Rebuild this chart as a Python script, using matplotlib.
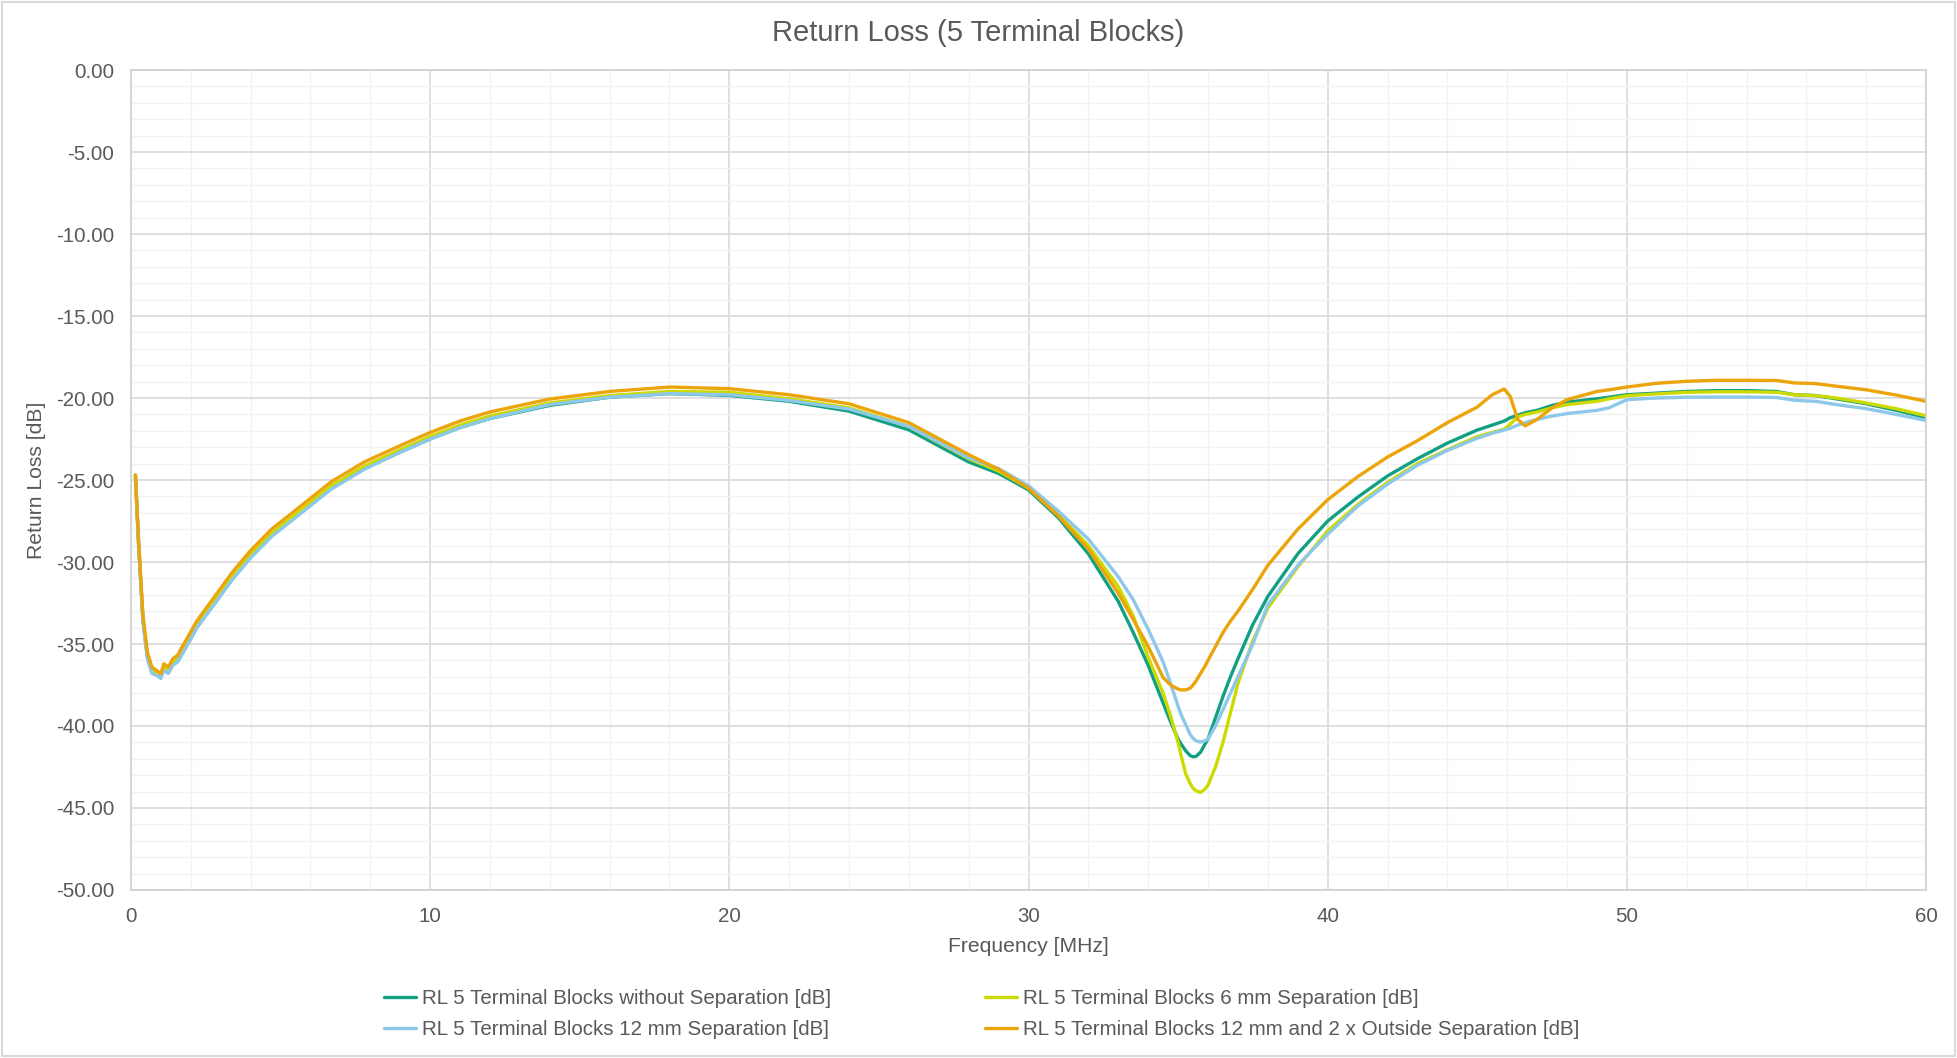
import matplotlib.pyplot as plt
from matplotlib.ticker import MultipleLocator, FormatStrFormatter
from matplotlib.patches import Rectangle

plt.rcParams['font.family'] = ['Liberation Sans', 'DejaVu Sans']

# frequency points [MHz]
freq = [0.15, 0.25, 0.4, 0.55, 0.7, 0.85, 1.0, 1.1, 1.25, 1.4, 1.55, 1.8, 2.2, 2.8,
        3.4, 4.0, 4.7, 5.6, 6.7, 7.8, 9.0, 10, 11, 12, 14, 16, 18, 20, 22, 24, 26,
        28, 29, 30, 31, 32, 33, 33.5, 34, 34.5, 34.75, 35, 35.1, 35.25, 35.4, 35.5,
        35.6, 35.75, 35.9, 36, 36.25, 36.5, 36.75, 37, 37.5, 38, 39, 40, 41, 42, 43,
        44, 45, 45.5, 45.9, 46.1, 46.35, 46.6, 47, 47.5, 48, 49, 49.4, 50, 51, 52, 53,
        54, 55, 55.6, 56.3, 57, 58, 59, 60]

# return loss [dB]
rl_none = [-24.7, -28.7, -33.5, -35.8, -36.7, -36.8, -37.0, -36.5, -36.7, -36.2, -36.1,
           -35.3, -34.0, -32.5, -31.0, -29.7, -28.4, -27.1, -25.5, -24.3, -23.3, -22.5,
           -21.8, -21.25, -20.45, -19.95, -19.73, -19.84, -20.2, -20.8, -21.94, -23.9,
           -24.6, -25.6, -27.3, -29.5, -32.4, -34.3, -36.3, -38.6, -39.75, -40.8, -41.1,
           -41.5, -41.8, -41.88, -41.85, -41.6, -41.1, -40.8, -39.5, -38.2, -37.0, -35.9,
           -33.8, -32.1, -29.5, -27.5, -26.05, -24.75, -23.7, -22.75, -21.95, -21.65,
           -21.4, -21.2, -21.05, -20.9, -20.75, -20.45, -20.25, -20.05, -19.95, -19.8,
           -19.7, -19.6, -19.55, -19.55, -19.6, -19.8, -19.85, -20.05, -20.35, -20.75,
           -21.2]
rl_6mm = [-24.7, -28.6, -33.4, -35.7, -36.6, -36.7, -36.9, -36.4, -36.6, -36.1, -35.95,
          -35.15, -33.85, -32.4, -30.9, -29.55, -28.25, -26.95, -25.35, -24.15, -23.15,
          -22.35, -21.65, -21.1, -20.3, -19.85, -19.6, -19.65, -20.05, -20.6, -21.73,
          -23.7, -24.45, -25.5, -27.1, -29.0, -31.5, -33.3, -35.8, -38.0, -39.4, -41.0,
          -41.8, -42.9, -43.5, -43.8, -43.95, -44.05, -43.85, -43.6, -42.5, -41.0, -39.2,
          -37.4, -34.8, -32.8, -30.3, -28.1, -26.5, -25.15, -24.0, -23.15, -22.35, -22.1,
          -21.9, -21.6, -21.15, -21.0, -20.85, -20.6, -20.4, -20.2, -20.05, -19.86,
          -19.75, -19.65, -19.62, -19.62, -19.65, -19.8, -19.85, -20.0, -20.3, -20.65,
          -21.08]
rl_12mm = [-24.7, -28.7, -33.6, -35.9, -36.8, -36.9, -37.1, -36.6, -36.8, -36.3, -36.1,
           -35.35, -34.0, -32.55, -31.05, -29.75, -28.45, -27.15, -25.55, -24.35, -23.3,
           -22.5, -21.8, -21.25, -20.4, -19.95, -19.73, -19.8, -20.15, -20.67, -21.73,
           -23.65, -24.3, -25.35, -26.9, -28.6, -30.9, -32.3, -34.1, -36.1, -37.4, -38.8,
           -39.3, -39.9, -40.5, -40.75, -40.9, -40.98, -40.9, -40.8, -40.0, -39.0, -38.0,
           -37.0, -35.0, -32.6, -30.2, -28.3, -26.6, -25.25, -24.1, -23.2, -22.45, -22.15,
           -21.95, -21.85, -21.65, -21.5, -21.3, -21.1, -20.95, -20.75, -20.6, -20.1,
           -20.0, -19.95, -19.94, -19.94, -19.97, -20.14, -20.2, -20.4, -20.65, -21.0,
           -21.37]
rl_12mm_out = [-24.7, -28.5, -33.2, -35.5, -36.4, -36.6, -36.8, -36.2, -36.4, -35.9, -35.7,
               -34.9, -33.6, -32.1, -30.6, -29.3, -28.0, -26.7, -25.1, -23.9, -22.9, -22.1,
               -21.4, -20.85, -20.06, -19.6, -19.33, -19.43, -19.8, -20.35, -21.5, -23.45,
               -24.35, -25.5, -27.2, -29.2, -31.9, -33.5, -35.15, -37.05, -37.5, -37.75,
               -37.8, -37.8, -37.7, -37.5, -37.25, -36.8, -36.35, -36.0, -35.15, -34.3,
               -33.6, -33.0, -31.65, -30.2, -28.0, -26.2, -24.8, -23.6, -22.6, -21.5,
               -20.55, -19.8, -19.45, -19.9, -21.3, -21.7, -21.3, -20.6, -20.1, -19.6,
               -19.5, -19.33, -19.1, -18.98, -18.92, -18.92, -18.93, -19.08, -19.12,
               -19.28, -19.5, -19.82, -20.2]

labels = ['RL 5 Terminal Blocks without Separation [dB]',
          'RL 5 Terminal Blocks 6 mm Separation [dB]',
          'RL 5 Terminal Blocks 12 mm Separation [dB]',
          'RL 5 Terminal Blocks 12 mm and 2 x Outside Separation [dB]']
colors = ['#12A083', '#CCDA00', '#8DC8EA', '#EBA40A']

text_c = '#595959'

fig = plt.figure(figsize=(19.57, 10.58), dpi=100)
ax = fig.add_axes([0.0669, 0.1588, 0.9173, 0.775])

lines = []
for y, lab, c in zip([rl_none, rl_6mm, rl_12mm, rl_12mm_out], labels, colors):
    ln, = ax.plot(freq, y, color=c, lw=2.4, label=lab,
                  solid_capstyle='round', solid_joinstyle='round')
    lines.append(ln)

ax.set_xlim(0, 60)
ax.set_ylim(-50, 0)
ax.xaxis.set_major_locator(MultipleLocator(10))
ax.xaxis.set_minor_locator(MultipleLocator(2))
ax.yaxis.set_major_locator(MultipleLocator(5))
ax.yaxis.set_minor_locator(MultipleLocator(1))
ax.yaxis.set_major_formatter(FormatStrFormatter('%.2f'))
ax.grid(which='major', color='#D9D9D9', lw=1.2)
ax.grid(which='minor', color='#F2F2F2', lw=1.0)
ax.set_axisbelow(True)
ax.tick_params(which='both', length=0, labelsize=14.8, labelcolor=text_c)
ax.tick_params(axis='y', pad=12)
ax.tick_params(axis='x', pad=12)
for s in ax.spines.values():
    s.set_color('#CFCFCF')
    s.set_linewidth(1.2)

ax.set_xlabel('Frequency [MHz]', fontsize=15.2, color=text_c, labelpad=8)
ax.set_ylabel('Return Loss [dB]', fontsize=15.2, color=text_c, labelpad=7)
fig.text(0.5, 0.969, 'Return Loss (5 Terminal Blocks)', ha='center', va='center',
         fontsize=21, color=text_c)

# legend: two columns, left column green/blue, right column yellow/orange
order = [0, 2, 1, 3]
fig.legend([lines[i] for i in order], [labels[i] for i in order], ncol=2,
           loc='center left', bbox_to_anchor=(0.187, 0.0415), frameon=False,
           fontsize=14.8, labelcolor=text_c, handlelength=1.55, handletextpad=0.3,
           columnspacing=7.45, labelspacing=0.6)

# chart area border
fig.patches.append(Rectangle((0.001, 0.002), 0.998, 0.996, transform=fig.transFigure,
                             fill=False, edgecolor='#D9D9D9', lw=1.5))

fig.savefig('out.png', dpi=100, facecolor='white')
